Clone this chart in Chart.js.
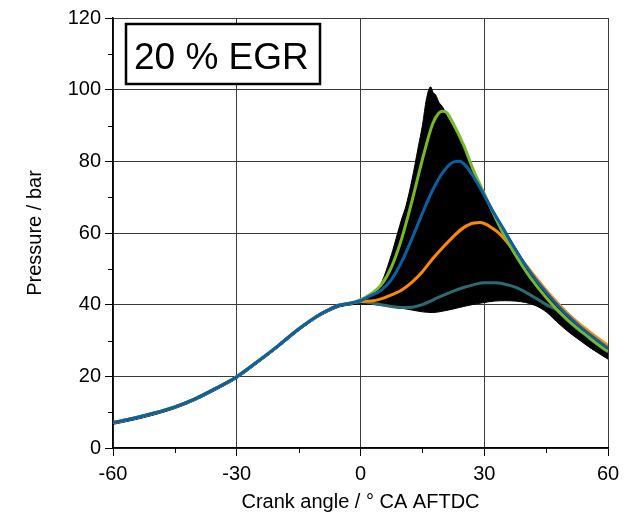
<!DOCTYPE html>
<html>
<head>
<meta charset="utf-8">
<title>Cylinder pressure, 20 % EGR</title>
<script src="https://cdn.jsdelivr.net/npm/chart.js@4.4.1/dist/chart.umd.min.js"></script>
<style>
  html, body { margin: 0; padding: 0; background: #fff; }
  canvas { display: block; }
</style>
</head>
<body>
<canvas id="pressureChart" width="638" height="518"></canvas>
<script>
// Axis ticks
const xTicks = [-60, -30, 0, 30, 60];
const xMinorTicks = [-45, -15, 15, 45];
const yTicks = [0, 20, 40, 60, 80, 100, 120];
const yMinorTicks = [10, 30, 50, 70, 90, 110];

// Compression (motored) part shared by every cycle, ° CA / bar
const motorAngle = [-60, -55, -50, -45, -40, -35, -30, -25, -20, -15, -10, -7.5, -5, -2.5];
const motorP = [7.1, 8.3, 9.75, 11.5, 13.8, 16.7, 19.9, 24.1, 28.5, 33.2, 37.2, 38.7, 39.9, 40.4];
const motorLowP = [6.6, 7.8, 9.25, 11.0, 13.3, 16.2, 19.4, 23.6, 28.0, 32.7, 36.7, 38.2, 39.4, 39.9];

// Envelope of all single cycles (upper / lower bound)
const envUpperAngle = [0, 2.5, 5, 7.5, 9, 10, 11, 12.5, 14, 15, 16, 17, 17.6, 18.2, 19, 20, 21, 22.5, 25, 27.5, 30, 32.5, 35, 37.5, 40, 42.5, 45, 47.5, 50, 52.5, 55, 57.5, 60];
const envUpperP = [41.5, 42.8, 46, 54, 60, 64, 67.5, 75, 84, 90, 97.5, 100.8, 99.2, 98.6, 96.5, 95, 92.5, 89.5, 84.5, 77, 71, 65.3, 60.8, 56, 51.5, 47.8, 44.2, 41, 38, 35.4, 33, 30.8, 28.7];
const envLowerAngle = [0, 2.5, 5, 7.5, 10, 12.5, 15, 17.5, 20, 22.5, 25, 27.5, 30, 32.5, 35, 37.5, 40, 42.5, 45, 47.5, 50, 52.5, 55, 57.5, 60];
const envLowerP = [40.2, 40.1, 39.8, 39.4, 39.0, 38.5, 38.0, 37.8, 38.2, 38.8, 39.5, 40.1, 40.6, 41.0, 41.1, 41.0, 40.6, 39.7, 38.0, 35.3, 32.8, 30.6, 28.5, 26.6, 24.8];

// Selected single cycles
const greenAngle = [0, 2.5, 5, 7.5, 10, 12.5, 15, 17.5, 19, 20, 21, 22.5, 25, 27.5, 30, 32.5, 35, 37.5, 40, 42.5, 45, 47.5, 50, 52.5, 55, 57.5, 60];
const greenP = [41.4, 43, 45.5, 50.5, 58.5, 69, 80.5, 90.5, 93.5, 94, 93.5, 90.5, 84.5, 77.2, 71, 64.8, 59, 54, 49.5, 45.5, 42, 38.8, 36, 33.5, 31.3, 29, 27];

const blueAngle = [0, 2.5, 5, 7.5, 10, 12.5, 15, 17.5, 20, 22.5, 24, 25.5, 27.5, 30, 32.5, 35, 37.5, 40, 42.5, 45, 47.5, 50, 52.5, 55, 57.5, 60];
const blueP = [41.1, 42.5, 44, 47, 52, 58.5, 65.5, 72, 77, 79.8, 80, 78.8, 75.5, 70.5, 65.3, 60.5, 55.5, 51, 47, 43.5, 40.2, 37.2, 34.6, 32.2, 30, 27.8];

const orangeAngle = [0, 2.5, 5, 7.5, 10, 12.5, 15, 17.5, 20, 22.5, 25, 27.5, 29, 30.5, 32, 33.5, 35, 37.5, 40, 42.5, 45, 47.5, 50, 52.5, 55, 57.5, 60];
const orangeP = [40.9, 41, 41.6, 42.7, 44.1, 46.3, 49.2, 52.8, 56, 59, 61.5, 62.8, 62.9, 62.4, 61.3, 60, 58.2, 54.6, 51.2, 47.6, 44, 40.8, 37.8, 35.2, 32.9, 30.7, 28.6];

const tealAngle = [0, 2.5, 5, 7.5, 10, 12.5, 15, 17.5, 20, 22.5, 25, 27.5, 30, 32.5, 35, 37.5, 40, 42.5, 45, 47.5, 50, 52.5, 55, 57.5, 60];
const tealP = [40.8, 40.5, 40, 39.5, 39.2, 39.3, 40, 41.3, 42.6, 43.8, 44.8, 45.6, 46.1, 46.1, 45.7, 44.9, 43.5, 41.8, 40, 38.6, 35.8, 33.3, 31.1, 28.8, 26.8];

const FONT = '"Liberation Sans", Arial, sans-serif';

// joins the shared compression part with the cycle's own points
function toPoints(angles, values, headAngles = motorAngle, headValues = motorP) {
  const head = headAngles.map((a, i) => ({ x: a, y: headValues[i] }));
  return head.concat(angles.map((a, i) => ({ x: a, y: values[i] })));
}

function cycleLine(data, color, order) {
  return {
    data,
    borderColor: color,
    borderWidth: 3,
    pointRadius: 0,
    cubicInterpolationMode: "monotone",
    fill: false,
    order,
  };
}

// short outer ticks between the labelled ones + the "20 % EGR" box
const extrasPlugin = {
  id: "extras",
  afterDraw(chart) {
    const { ctx, chartArea, scales } = chart;
    ctx.save();
    ctx.strokeStyle = "#000";
    ctx.lineWidth = 1;
    ctx.beginPath();
    xMinorTicks.forEach(v => {
      const px = Math.round(scales.x.getPixelForValue(v)) + 0.5;
      ctx.moveTo(px, chartArea.bottom);
      ctx.lineTo(px, chartArea.bottom + 5);
    });
    yMinorTicks.forEach(v => {
      const py = Math.round(scales.y.getPixelForValue(v)) + 0.5;
      ctx.moveTo(chartArea.left, py);
      ctx.lineTo(chartArea.left - 5, py);
    });
    ctx.stroke();

    // label box
    const bx = chartArea.left + 13;
    const by = chartArea.top + 6;
    ctx.fillStyle = "#fff";
    ctx.fillRect(bx, by, 194, 60);
    ctx.lineWidth = 2.5;
    ctx.strokeRect(bx, by, 194, 60);
    ctx.fillStyle = "#000";
    ctx.font = `37px ${FONT}`;
    ctx.textBaseline = "alphabetic";
    ctx.textAlign = "left";
    ctx.fillText("20 % EGR", bx + 8, by + 45);
    ctx.restore();
  },
};

new Chart(document.getElementById("pressureChart"), {
  type: "line",
  data: {
    datasets: [
      {
        // lower bound of the cycle band
        data: toPoints(envLowerAngle, envLowerP, motorAngle, motorLowP),
        borderColor: "#000",
        borderWidth: 1,
        pointRadius: 0,
        cubicInterpolationMode: "monotone",
        fill: false,
        order: 6,
      },
      {
        // upper bound, filled down to the lower bound
        data: toPoints(envUpperAngle, envUpperP),
        borderColor: "#000",
        backgroundColor: "#000",
        borderWidth: 1,
        pointRadius: 0,
        cubicInterpolationMode: "monotone",
        fill: "-1",
        order: 5,
      },
      cycleLine(toPoints(tealAngle, tealP), "#2d6b72", 4),
      cycleLine(toPoints(orangeAngle, orangeP), "#ff8a00", 3),
      cycleLine(toPoints(greenAngle, greenP), "#78b928", 2),
      cycleLine(toPoints(blueAngle, blueP), "#0b5fa5", 1),
    ],
  },
  options: {
    responsive: false,
    animation: false,
    layout: { padding: { left: 0, right: 30, top: 18, bottom: 0 } },
    plugins: {
      legend: { display: false },
      tooltip: { enabled: false },
    },
    scales: {
      x: {
        type: "linear",
        min: -60,
        max: 60,
        afterFit: scale => { scale.height = 70; },
        afterBuildTicks: scale => { scale.ticks = xTicks.map(v => ({ value: v })); },
        ticks: { color: "#000", font: { size: 20, family: FONT }, padding: 6, maxRotation: 0 },
        grid: { color: "#3a3a3a", lineWidth: 1, tickLength: 8, tickColor: "#000" },
        border: { color: "#000", width: 1.5 },
        title: {
          display: true,
          text: "Crank angle / ° CA AFTDC",
          color: "#000",
          font: { size: 20, family: FONT },
          padding: { top: 0, bottom: 4 },
        },
      },
      y: {
        min: 0,
        max: 120,
        afterFit: scale => { scale.width = 113; },
        afterBuildTicks: scale => { scale.ticks = yTicks.map(v => ({ value: v })); },
        ticks: { color: "#000", font: { size: 20, family: FONT }, padding: 4 },
        grid: { color: "#3a3a3a", lineWidth: 1, tickLength: 8, tickColor: "#000" },
        border: { color: "#000", width: 1.5 },
        title: {
          display: true,
          text: "Pressure / bar",
          color: "#000",
          font: { size: 20, family: FONT },
          padding: { top: 23, bottom: 0 },
        },
      },
    },
  },
  plugins: [extrasPlugin],
});
</script>
</body>
</html>
